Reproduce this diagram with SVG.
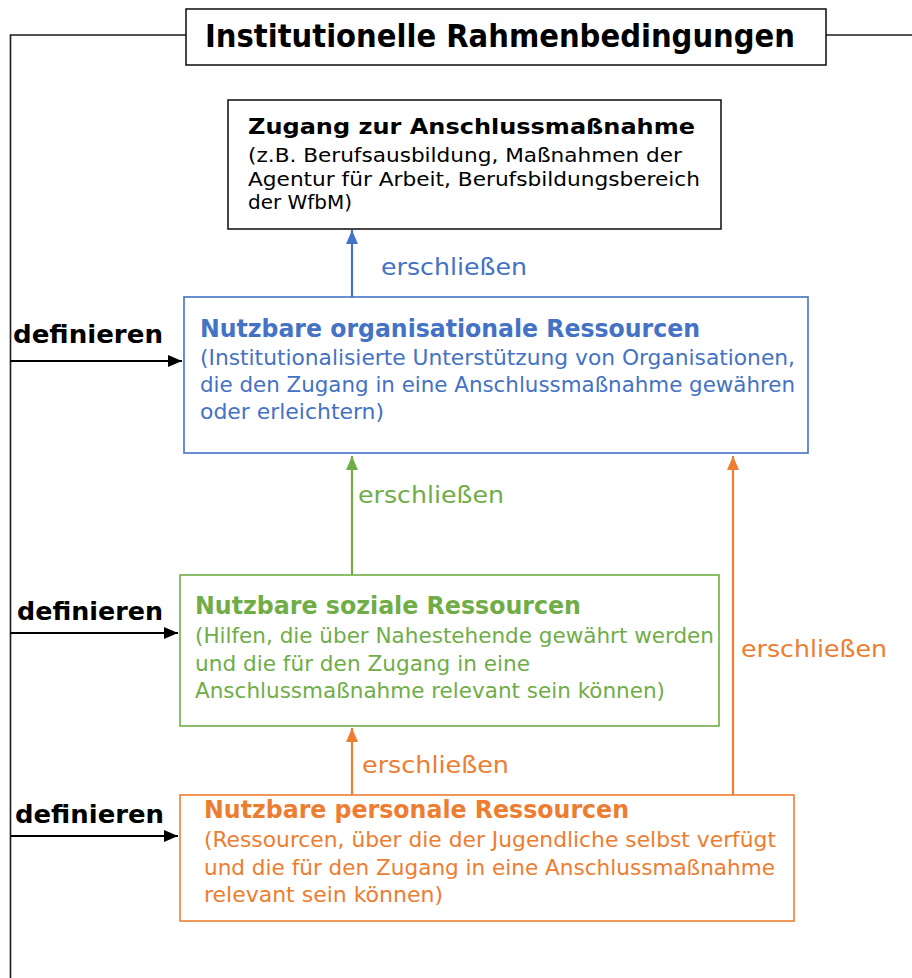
<svg xmlns="http://www.w3.org/2000/svg" width="912" height="978" viewBox="0 0 912 978">
<defs>
<style>
.cond{font-family:"DejaVu Sans Condensed","Liberation Sans Narrow","DejaVu Sans",sans-serif;font-stretch:condensed}
.ver{font-family:"DejaVu Sans","Verdana",sans-serif}
.b{font-weight:bold}
.blue{fill:#4472C4}.green{fill:#70AD47}.orange{fill:#ED7D31}.black{fill:#000}
.box{fill:#fff;stroke-width:1.6}
.frame{fill:none;stroke:#1a1a1a;stroke-width:1.6}
</style>
<marker id="ahK" viewBox="0 0 14 12" refX="14" refY="6" markerWidth="14" markerHeight="12" markerUnits="userSpaceOnUse" orient="auto"><path d="M0,0 L14,6 L0,12 z" fill="#000"/></marker>
<marker id="ahB" viewBox="0 0 14 12" refX="14" refY="6" markerWidth="14" markerHeight="12" markerUnits="userSpaceOnUse" orient="auto"><path d="M0,0 L14,6 L0,12 z" fill="#4472C4"/></marker>
<marker id="ahG" viewBox="0 0 14 12" refX="14" refY="6" markerWidth="14" markerHeight="12" markerUnits="userSpaceOnUse" orient="auto"><path d="M0,0 L14,6 L0,12 z" fill="#70AD47"/></marker>
<marker id="ahO" viewBox="0 0 14 12" refX="14" refY="6" markerWidth="14" markerHeight="12" markerUnits="userSpaceOnUse" orient="auto"><path d="M0,0 L14,6 L0,12 z" fill="#ED7D31"/></marker>
</defs>
<rect width="912" height="978" fill="#fff"/>

<g id="connectors">
<polyline class="frame" points="186,35 10.5,35 10.5,978"/>
<line class="frame" x1="826" y1="35" x2="912" y2="35"/>
<line x1="10.5" y1="361" x2="182" y2="361" stroke="#000" stroke-width="2" marker-end="url(#ahK)"/>
<line x1="10.5" y1="633" x2="178" y2="633" stroke="#000" stroke-width="2" marker-end="url(#ahK)"/>
<line x1="10.5" y1="836" x2="178" y2="836" stroke="#000" stroke-width="2" marker-end="url(#ahK)"/>
<line x1="352" y1="297" x2="352" y2="230" stroke="#4472C4" stroke-width="2.2" marker-end="url(#ahB)"/>
<line x1="352" y1="575" x2="352" y2="456" stroke="#70AD47" stroke-width="2.2" marker-end="url(#ahG)"/>
<line x1="352" y1="795" x2="352" y2="728" stroke="#ED7D31" stroke-width="2.2" marker-end="url(#ahO)"/>
<line x1="733" y1="795" x2="733" y2="456" stroke="#ED7D31" stroke-width="2.2" marker-end="url(#ahO)"/>
<text class="ver blue" x="381" y="275" font-size="23" textLength="146" lengthAdjust="spacingAndGlyphs">erschließen</text>
<text class="ver green" x="358" y="503" font-size="23" textLength="146" lengthAdjust="spacingAndGlyphs">erschließen</text>
<text class="ver orange" x="741" y="657" font-size="23" textLength="146" lengthAdjust="spacingAndGlyphs">erschließen</text>
<text class="ver orange" x="362" y="773" font-size="23" textLength="147" lengthAdjust="spacingAndGlyphs">erschließen</text>
<text class="cond b black" x="13" y="343" font-size="25" textLength="150" lengthAdjust="spacingAndGlyphs">definieren</text>
<text class="cond b black" x="17" y="620" font-size="25" textLength="146" lengthAdjust="spacingAndGlyphs">definieren</text>
<text class="cond b black" x="15" y="823" font-size="25" textLength="149" lengthAdjust="spacingAndGlyphs">definieren</text>
</g>

<g id="rahmen">
<rect class="box" x="186" y="9" width="640" height="56" stroke="#1a1a1a" stroke-width="2"/>
<text class="cond b black" x="205" y="47" font-size="32" textLength="590" lengthAdjust="spacingAndGlyphs">Institutionelle Rahmenbedingungen</text>
</g>

<g id="zugang">
<rect class="box" x="228" y="100" width="493" height="129" stroke="#1a1a1a" stroke-width="2"/>
<text class="ver b black" x="248" y="134" font-size="22" textLength="447" lengthAdjust="spacingAndGlyphs">Zugang zur Anschlussmaßnahme</text>
<text class="ver black" x="248" y="162" font-size="20" textLength="434" lengthAdjust="spacingAndGlyphs">(z.B. Berufsausbildung, Maßnahmen der</text>
<text class="ver black" x="248" y="186" font-size="20" textLength="452" lengthAdjust="spacingAndGlyphs">Agentur für Arbeit, Berufsbildungsbereich</text>
<text class="ver black" x="248" y="209" font-size="20" textLength="104" lengthAdjust="spacingAndGlyphs">der WfbM)</text>
</g>

<g id="organisationale">
<rect class="box" x="184" y="297" width="624" height="156" stroke="#4472C4"/>
<text class="cond b blue" x="200" y="337" font-size="25" textLength="500" lengthAdjust="spacingAndGlyphs">Nutzbare organisationale Ressourcen</text>
<text class="cond blue" x="200" y="365" font-size="22" textLength="595" lengthAdjust="spacingAndGlyphs">(Institutionalisierte Unterstützung von Organisationen,</text>
<text class="cond blue" x="200" y="392" font-size="22" textLength="595" lengthAdjust="spacingAndGlyphs">die den Zugang in eine Anschlussmaßnahme gewähren</text>
<text class="cond blue" x="200" y="419" font-size="22" textLength="184" lengthAdjust="spacingAndGlyphs">oder erleichtern)</text>
</g>

<g id="soziale">
<rect class="box" x="180" y="575" width="539" height="151" stroke="#70AD47"/>
<text class="cond b green" x="195" y="614" font-size="25" textLength="386" lengthAdjust="spacingAndGlyphs">Nutzbare soziale Ressourcen</text>
<text class="cond green" x="195" y="643" font-size="22" textLength="519" lengthAdjust="spacingAndGlyphs">(Hilfen, die über Nahestehende gewährt werden</text>
<text class="cond green" x="195" y="671" font-size="22" textLength="335" lengthAdjust="spacingAndGlyphs">und die für den Zugang in eine</text>
<text class="cond green" x="195" y="698" font-size="22" textLength="470" lengthAdjust="spacingAndGlyphs">Anschlussmaßnahme relevant sein können)</text>
</g>

<g id="personale">
<rect class="box" x="180" y="795" width="614" height="126" stroke="#ED7D31"/>
<text class="cond b orange" x="204" y="818" font-size="25" textLength="425" lengthAdjust="spacingAndGlyphs">Nutzbare personale Ressourcen</text>
<text class="cond orange" x="204" y="847" font-size="22" textLength="572" lengthAdjust="spacingAndGlyphs">(Ressourcen, über die der Jugendliche selbst verfügt</text>
<text class="cond orange" x="204" y="875" font-size="22" textLength="571" lengthAdjust="spacingAndGlyphs">und die für den Zugang in eine Anschlussmaßnahme</text>
<text class="cond orange" x="204" y="902" font-size="22" textLength="239" lengthAdjust="spacingAndGlyphs">relevant sein können)</text>
</g>
</svg>
